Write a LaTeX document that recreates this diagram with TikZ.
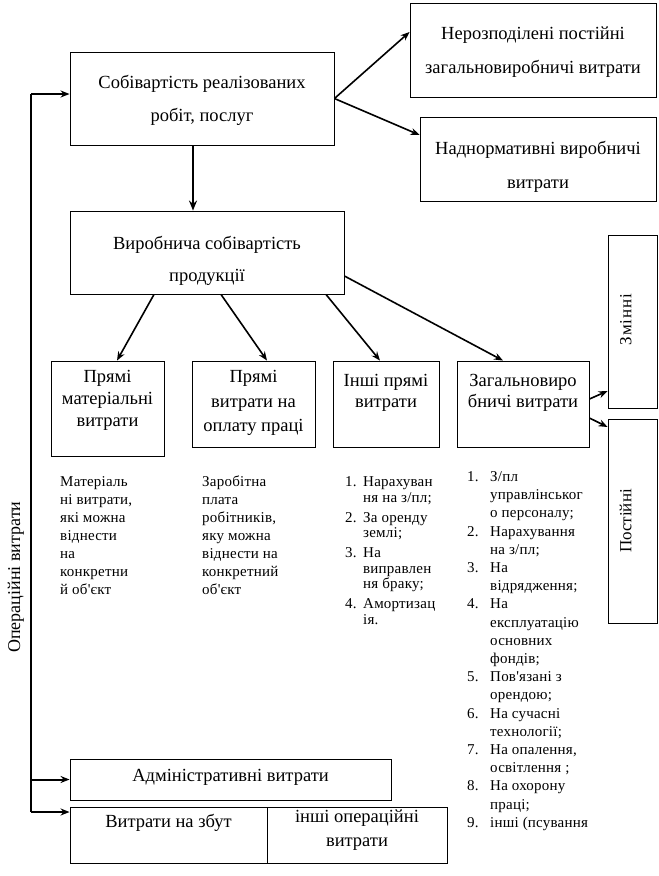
\documentclass[tikz,border=0pt]{standalone}
\usepackage{fontspec}
\setmainfont{Liberation Serif}
\newfontfamily\lf[LetterSpace=1.5,Ligatures=TeXOff]{Liberation Serif}
\newfontfamily\wide[LetterSpace=5]{Liberation Serif}
\usetikzlibrary{arrows.meta,calc}
\newcommand{\bt}[3]{\raisebox{#1pt}[0pt][0pt]{\renewcommand\arraystretch{#2}\begin{tabular}{@{}c@{}}#3\end{tabular}}}
\newcommand{\nm}[1]{\makebox[18pt][l]{#1}}
\newcommand{\nh}[1]{\makebox[23pt][l]{#1}}
\begin{document}
\begin{tikzpicture}[x=1pt,y=-1pt,
  box/.style={draw, line width=0.9pt, inner sep=0pt, font=\fontsize{18.5}{20}\selectfont},
  arr/.style={line width=1.6pt, -{Stealth[length=9pt,width=7pt]}},
  sidearr/.style={line width=2pt, -{Stealth[length=9pt,width=7pt]}},
  thickarr/.style={line width=2.6pt, -{Stealth[length=10pt,width=8pt]}},
  vline/.style={line width=1.2pt},
  lst/.style={inner sep=0pt, anchor=base west, font=\lf\fontsize{15}{18}\selectfont}]
\useasboundingbox (0,0) rectangle (659,876);

% top boxes
\node[box, minimum width=264, minimum height=93] (A) at (202,98.5)
  {\bt{-4.25}{1.65}{Собівартість реалізованих\\робіт, послуг}};
\node[box, minimum width=246, minimum height=94] (B) at (533,50)
  {\bt{-4.25}{1.7}{Нерозподілені постійні\\загальновиробничі витрати}};
\node[box, minimum width=236, minimum height=84] (C) at (538,159)
  {\bt{-10.25}{1.7}{Наднормативні виробничі\\витрати}};
\node[box, minimum width=274, minimum height=83] (D) at (207,252.5)
  {\bt{-10.75}{1.6}{Виробнича собівартість\\продукції}};

% second level
\node[box, minimum width=113, minimum height=95] (E) at (107.5,408.5)
  {\bt{4.25}{1.1}{Прямі\\матеріальні\\витрати}};
\node[box, minimum width=123, minimum height=86] (F) at (253.5,404)
  {\bt{-2.75}{1.22}{Прямі\\витрати на\\оплату праці}};
\node[box, minimum width=106, minimum height=86] (G) at (386,404)
  {\bt{7.25}{1.05}{Інші прямі\\витрати}};
\node[box, minimum width=132, minimum height=86] (H) at (523,404)
  {\bt{7.25}{1.05}{Загальновиро\\бничі витрати}};

% right vertical boxes
\node[box, rotate=90, minimum width=173, minimum height=49] (Z) at (632.5,321.5)
  {\raisebox{1.25pt}[0pt][0pt]{\hspace*{4pt}\fontsize{17}{18}\selectfont\wide Змінні}};
\node[box, rotate=90, minimum width=204, minimum height=49] (P) at (632.5,521)
  {\raisebox{1.25pt}[0pt][0pt]{\fontsize{17}{18}\selectfont Постійні}};

% bottom boxes
\node[box, minimum width=321, minimum height=41] (adm) at (230.5,779.5)
  {\bt{-2.75}{1}{Адміністративні витрати}};
\node[box, minimum width=197, minimum height=56] (sb) at (168.5,835)
  {\bt{6.75}{1}{Витрати на збут}};
\node[box, minimum width=180, minimum height=56] (oth) at (357,835)
  {\bt{0.75}{1.2}{інші операційні\\витрати}};

% side label
\node[rotate=90, inner sep=0pt, font=\fontsize{18}{20}\selectfont] (op) at (16,577) {Операційні витрати};

% lists
\node[lst] (le) at (60,486.5) {\begin{tabular}[t]{@{}l@{}}Матеріаль\\ні витрати,\\які можна\\віднести\\на\\конкретни\\й об'єкт\end{tabular}};
\node[lst] (lf) at (202,486.5) {\begin{tabular}[t]{@{}l@{}}Заробітна\\плата\\робітників,\\яку можна\\віднести на\\конкретний\\об'єкт\end{tabular}};
\node[lst, font=\lf\fontsize{15}{15.5}\selectfont] (lg) at (345,486.5) {\begin{tabular}[t]{@{}l@{}}\nm{1.}Нарахуван\\\nm{}ня на з/пл;\\[4.5pt]\nm{2.}За оренду\\\nm{}землі;\\[4.5pt]\nm{3.}На\\\nm{}виправлен\\\nm{}ня браку;\\[4.5pt]\nm{4.}Амортизац\\\nm{}ія.\end{tabular}};
\node[lst, font=\lf\fontsize{15}{18.2}\selectfont] (lh) at (467,481.5) {\begin{tabular}[t]{@{}l@{}}\nh{1.}З/пл\\\nh{}управлінськог\\\nh{}о персоналу;\\\nh{2.}Нарахування\\\nh{}на з/пл;\\\nh{3.}На\\\nh{}відрядження;\\\nh{4.}На\\\nh{}експлуатацію\\\nh{}основних\\\nh{}фондів;\\\nh{5.}Пов'язані з\\\nh{}орендою;\\\nh{6.}На сучасні\\\nh{}технології;\\\nh{7.}На опалення,\\\nh{}освітлення ;\\\nh{8.}На охорону\\\nh{}праці;\\\nh{9.}інші (псування\end{tabular}};

% helper coordinates
\coordinate (bin) at (400,32);
\coordinate (cin) at (400,135);
\coordinate (zin) at (600,391);
\coordinate (pin) at (600,427);
\coordinate (ad) at ([xshift=-9pt]A.south);
\coordinate (ltop) at (31,94);
\coordinate (lbot) at (31,812);

% connectors
\draw[arr] (A.east) -- (B.west |- bin);
\draw[arr] (A.east) -- (C.west |- cin);
\draw[thickarr] (ad) -- (ad |- D.north);
\draw[arr] ([xshift=-53pt]D.south) -- ([xshift=9.5pt]E.north);
\draw[arr] ([xshift=14pt]D.south) -- ([xshift=13.5pt]F.north);
\draw[arr] ([xshift=119pt]D.south) -- ([xshift=-6pt]G.north);
\draw[arr] ([yshift=-23.5pt]D.east) -- ([xshift=-20pt]H.north);
\draw[arr] ([yshift=5pt]H.east) -- (Z.north |- zin);
\draw[arr] ([yshift=-14pt]H.east) -- (P.north |- pin);

\draw[vline] (ltop) -- (lbot);
\draw[sidearr] (ltop) -- (A.west |- ltop);
\draw[sidearr] (adm.west -| ltop) -- (adm.west);
\draw[sidearr] (lbot) -- (sb.west |- lbot);
\end{tikzpicture}
\end{document}
